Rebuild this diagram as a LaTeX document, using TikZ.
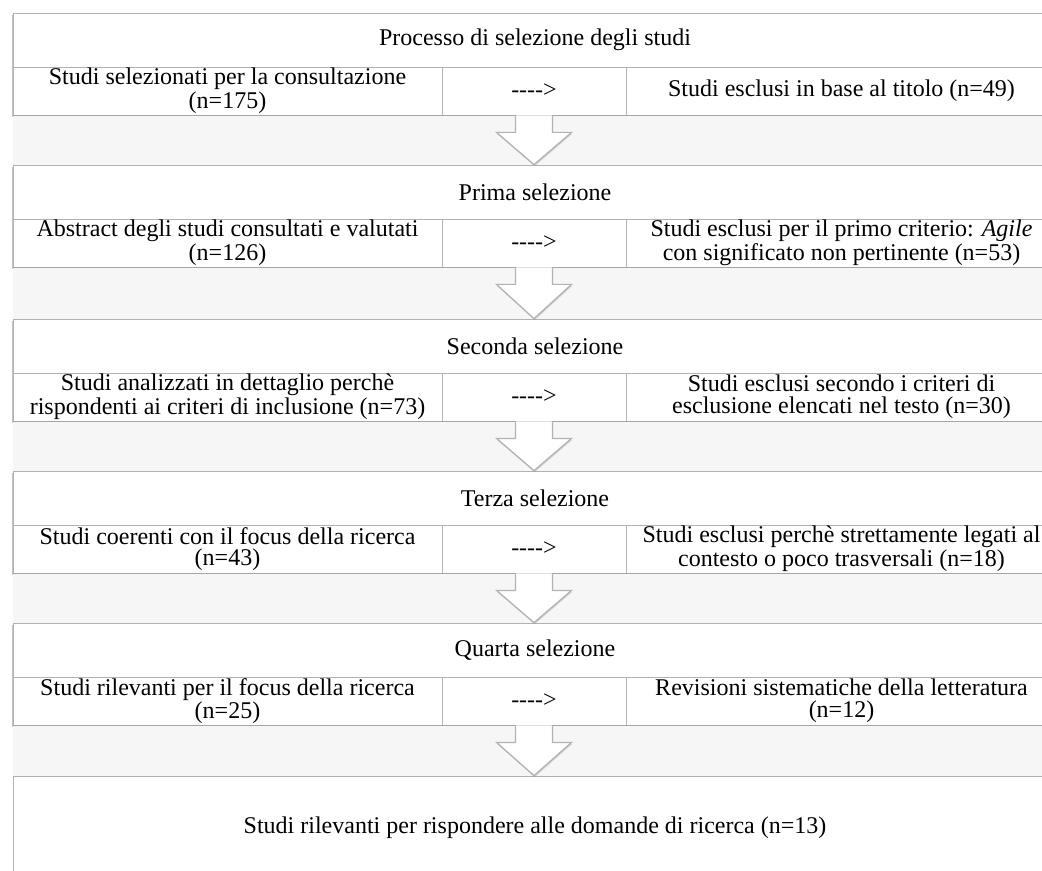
\documentclass[tikz,border=0pt]{standalone}
\usepackage{fontspec}
\setmainfont{Liberation Serif}
\usepackage{tikz}
\usetikzlibrary{calc,shadows}

\colorlet{linegray}{gray!60}
\colorlet{bandgray}{gray!7}

% block arrow from the bottom of one block to the top of the next
\newcommand\stagearrow[2]{%
  \draw[stagearrowstyle] let \p1=(#1), \p2=(#2) in
    (\x1-9.25pt,\y1) -- (\x1-9.25pt,\y1-8.5pt) -- (\x1-18.75pt,\y1-8.5pt)
    -- (\x1,\y2) -- (\x1+18.75pt,\y1-8.5pt) -- (\x1+9.25pt,\y1-8.5pt)
    -- (\x1+9.25pt,\y1);
}

\begin{document}
\begin{tikzpicture}[
  x=0.5pt, y=-0.5pt,
  every node/.style={font=\fontsize{12}{10.8}\selectfont, inner sep=0pt, align=center},
  boxshadow/.style={drop shadow={shadow xshift=-0.5pt, shadow yshift=-1pt, opacity=0.4, fill=black!60}},
  title/.style={draw=linegray, fill=white, minimum width=522pt, minimum height=27pt},
  cell/.style={draw=linegray, fill=white, minimum height=24pt},
  leftcell/.style={cell, minimum width=214.5pt},
  midcell/.style={cell, minimum width=92pt},
  rightcell/.style={cell, minimum width=215.5pt},
  finalbox/.style={draw=linegray, fill=white, minimum width=522pt, minimum height=52pt},
  stagearrowstyle/.style={draw=linegray, fill=white, line width=0.6pt, line join=miter,
    drop shadow={shadow xshift=0.3pt, shadow yshift=-0.8pt, opacity=0.3}}
]
\useasboundingbox (0,0) rectangle (1042,871);

% block 1
\node[title, boxshadow] (T1) at (535,40) {Processo di selezione degli studi};
\node[leftcell, boxshadow] (L1) at (227.5,91) {Studi selezionati per la consultazione\\(n=175)};
\node[midcell] (M1) at (534,91) {-{}-{}-{}->};
\node[rightcell] (R1) at (841.5,91) {Studi esclusi in base al titolo (n=49)};

% block 2
\node[title, boxshadow] (T2) at (535,192) {Prima selezione};
\node[leftcell, boxshadow] (L2) at (227.5,243) {Abstract degli studi consultati e valutati\\(n=126)};
\node[midcell] (M2) at (534,243) {-{}-{}-{}->};
\node[rightcell] (R2) at (841.5,243) {Studi esclusi per il primo criterio: \textit{Agile}\\con significato non pertinente (n=53)};

% block 3
\node[title, boxshadow] (T3) at (535,346) {Seconda selezione};
\node[leftcell, boxshadow] (L3) at (227.5,397) {Studi analizzati in dettaglio perchè\\rispondenti ai criteri di inclusione (n=73)};
\node[midcell] (M3) at (534,397) {-{}-{}-{}->};
\node[rightcell] (R3) at (841.5,397) {Studi esclusi secondo i criteri di\\esclusione elencati nel testo (n=30)};

% block 4
\node[title, boxshadow] (T4) at (535,498) {Terza selezione};
\node[leftcell, boxshadow] (L4) at (227.5,549) {Studi coerenti con il focus della ricerca\\(n=43)};
\node[midcell] (M4) at (534,549) {-{}-{}-{}->};
\node[rightcell] (R4) at (841.5,549) {Studi esclusi perchè strettamente legati al\\contesto o poco trasversali (n=18)};

% block 5
\node[title, boxshadow] (T5) at (535,650) {Quarta selezione};
\node[leftcell, boxshadow] (L5) at (227.5,701) {Studi rilevanti per il focus della ricerca\\(n=25)};
\node[midcell] (M5) at (534,701) {-{}-{}-{}->};
\node[rightcell] (R5) at (841.5,701) {Revisioni sistematiche della letteratura\\(n=12)};

% result
\node[finalbox] (F) at (535,828) {Studi rilevanti per rispondere alle domande di ricerca (n=13)};

% grey bands between the blocks
\fill[bandgray] (L1.south west) rectangle (T2.north east);
\fill[bandgray] (L2.south west) rectangle (T3.north east);
\fill[bandgray] (L3.south west) rectangle (T4.north east);
\fill[bandgray] (L4.south west) rectangle (T5.north east);
\fill[bandgray] (L5.south west) rectangle (F.north east);
\draw[gray!70, line width=0.7pt] (L1.south west) -- (R1.south east);
\draw[gray!70, line width=0.7pt] (L2.south west) -- (R2.south east);
\draw[gray!70, line width=0.7pt] (L3.south west) -- (R3.south east);
\draw[gray!70, line width=0.7pt] (L4.south west) -- (R4.south east);
\draw[gray!70, line width=0.7pt] (L5.south west) -- (R5.south east);

% arrows
\stagearrow{M1.south}{T2.north}
\stagearrow{M2.south}{T3.north}
\stagearrow{M3.south}{T4.north}
\stagearrow{M4.south}{T5.north}
\stagearrow{M5.south}{F.north}
\end{tikzpicture}
\end{document}
